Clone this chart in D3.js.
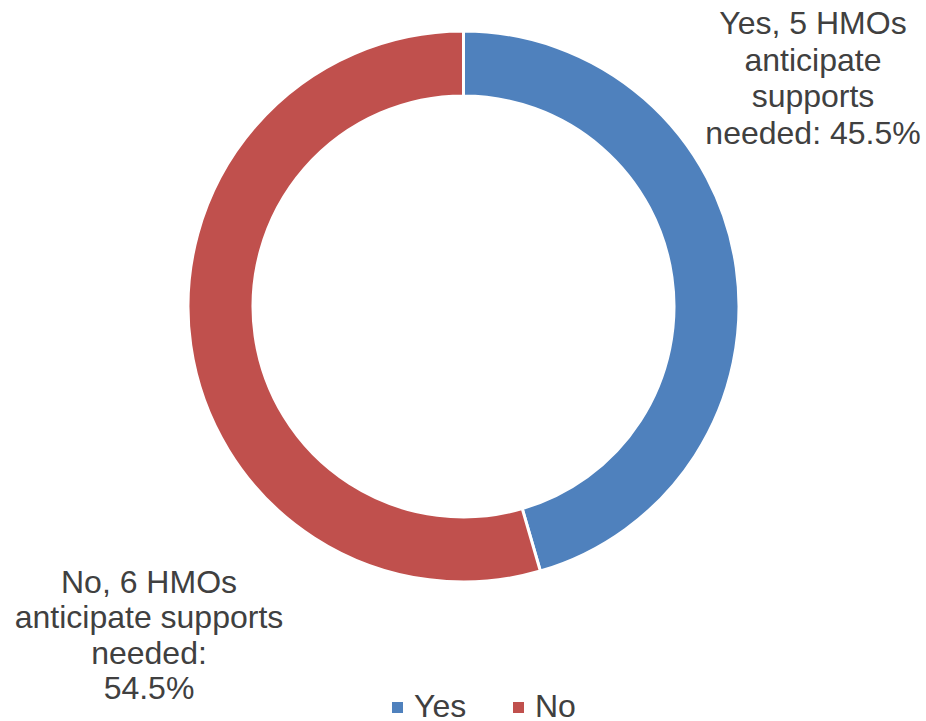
<!DOCTYPE html>
<html>
  <head>
    <meta charset="UTF-8" />
    <style>
      body { margin: 0; background: #fff; }
      svg { display: block; font-family: "Liberation Sans", Arial, sans-serif; }
    </style>
  </head>
  <body>
    <svg></svg>
    <script src="https://d3js.org/d3.v7.min.js"></script>
    <script>
      let width = 926,
        height = 721;

      // data
      var categories = ["Yes", "No"];
      var counts = [5, 6];
      var shares = [45.5, 54.5];
      var labelLines = [
        ["Yes, 5 HMOs", "anticipate", "supports", "needed: 45.5%"],
        ["No, 6 HMOs", "anticipate supports", "needed:", "54.5%"],
      ];
      var colors = ["#4F81BD", "#C0504D"];

      let svg = d3.select("svg").attr("width", width).attr("height", height);

      var cx = 463.5,
        cy = 306.5;

      var pie = d3.pie().sort(null).value((d) => d.share);
      var arc = d3.arc().innerRadius(210.5).outerRadius(275.5);

      var rows = categories.map((c, i) => ({
        cat: c,
        count: counts[i],
        share: shares[i],
        lines: labelLines[i],
      }));

      var colorScale = d3.scaleOrdinal().domain(categories).range(colors);

      var g = svg.append("g").attr("transform", "translate(" + cx + "," + cy + ")");

      g.selectAll("path")
        .data(pie(rows))
        .enter()
        .append("path")
        .attr("d", arc)
        .attr("fill", (d) => colorScale(d.data.cat))
        .attr("stroke", "#fff")
        .attr("stroke-width", 3)
        .attr("stroke-linejoin", "miter");

      // data labels (placed outside the ring like the original)
      var labelPos = [
        { x: 813, y: 34 },
        { x: 149, y: 593 },
      ];
      var lineH = [36.5, 35.3];

      rows.forEach(function (r, i) {
        var t = svg
          .append("text")
          .attr("text-anchor", "middle")
          .attr("font-size", 32)
          .attr("fill", "#404040");
        r.lines.forEach(function (ln, j) {
          t.append("tspan")
            .attr("x", labelPos[i].x)
            .attr("y", labelPos[i].y + j * lineH[i])
            .text(ln);
        });
      });

      // legend
      var legendX = [392, 513];
      var legend = svg
        .append("g")
        .selectAll("g")
        .data(categories)
        .enter()
        .append("g")
        .attr("transform", (d, i) => "translate(" + legendX[i] + ",702)");

      legend
        .append("rect")
        .attr("width", 11)
        .attr("height", 11)
        .attr("fill", (d) => colorScale(d));

      legend
        .append("text")
        .attr("x", 22)
        .attr("y", 15)
        .attr("font-size", 32)
        .attr("fill", "#404040")
        .text((d) => d);
    </script>
  </body>
</html>
